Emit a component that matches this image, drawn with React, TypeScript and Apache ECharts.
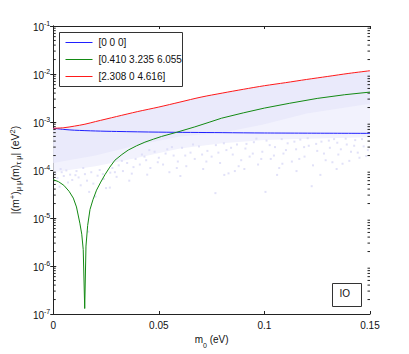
import React, { useEffect, useRef } from "react";
import * as echarts from "echarts";

// ---- data ----
const redM0 = [0, 0.005, 0.01, 0.015, 0.02, 0.03, 0.04, 0.05, 0.06, 0.07, 0.08, 0.09, 0.1, 0.11, 0.12, 0.13, 0.14, 0.15];
const redV = [7.4e-4, 7.6e-4, 8.2e-4, 9.0e-4, 1.02e-3, 1.3e-3, 1.65e-3, 2.05e-3, 2.6e-3, 3.3e-3, 4.0e-3, 4.8e-3, 5.7e-3, 6.6e-3, 7.7e-3, 8.9e-3, 1.03e-2, 1.17e-2];

const blueM0 = [0, 0.005, 0.01, 0.02, 0.03, 0.05, 0.08, 0.1, 0.15];
const blueV = [7.4e-4, 7.0e-4, 6.75e-4, 6.5e-4, 6.35e-4, 6.15e-4, 6.0e-4, 5.9e-4, 5.8e-4];

const greenM0 = [0, 0.0025, 0.005, 0.0075, 0.0095, 0.011, 0.0126, 0.0135, 0.0142, 0.0149, 0.0155, 0.0163, 0.0174, 0.0188, 0.0205, 0.0225, 0.0245, 0.0268, 0.0292, 0.0325, 0.0355, 0.0395, 0.0434, 0.0475, 0.0513, 0.0584, 0.067, 0.0742, 0.0797, 0.09, 0.1, 0.112, 0.125, 0.138, 0.15];
const greenV = [6.3e-5, 5.7e-5, 4.8e-5, 3.6e-5, 2.6e-5, 1.7e-5, 7.8e-6, 4.6e-6, 2.2e-6, 1.3e-7, 2.6e-6, 7e-6, 1.5e-5, 2.4e-5, 3.8e-5, 5.6e-5, 8.0e-5, 1.15e-4, 1.6e-4, 2.1e-4, 2.6e-4, 3.2e-4, 3.8e-4, 4.4e-4, 5.0e-4, 6.1e-4, 7.9e-4, 1.0e-3, 1.2e-3, 1.55e-3, 1.95e-3, 2.46e-3, 3.1e-3, 3.7e-3, 4.2e-3];

// envelope of the dense scatter cloud
const denseM0 = [0, 0.02, 0.04, 0.06, 0.08, 0.1, 0.12, 0.15];
const denseLow = [1.4e-4, 2.0e-4, 3.3e-4, 5.0e-4, 6.0e-4, 9.0e-4, 1.5e-3, 2.4e-3];
const lightLow = [9e-5, 1.2e-4, 1.8e-4, 2.8e-4, 3.6e-4, 4.2e-4, 4.5e-4, 4.8e-4];

// sparse scatter points [m0, value]
const sparsePts: [number, number][] = [
  [0.001, 8.5e-5], [0.002, 6.8e-5], [0.003, 4.5e-5], [0.004, 9e-5], [0.005, 7.5e-5], [0.007, 5.5e-5],
  [0.008, 8e-5], [0.009, 6.2e-5], [0.011, 9.5e-5], [0.012, 7e-5], [0.013, 4.8e-5], [0.015, 8.2e-5],
  [0.016, 6e-5], [0.0166, 5.2e-6], [0.017, 3.5e-5], [0.018, 9e-5], [0.019, 5.2e-5], [0.020, 2.8e-5],
  [0.021, 7.6e-5], [0.022, 1.0e-4], [0.024, 6.5e-5], [0.025, 4.2e-5], [0.0268, 4.3e-5], [0.027, 8.8e-5],
  [0.028, 1.1e-4], [0.030, 7.2e-5], [0.031, 1.25e-4], [0.033, 9.5e-5], [0.035, 1.4e-4], [0.036, 6e-5],
  [0.038, 1.15e-4], [0.039, 1.7e-4], [0.041, 1.3e-4], [0.042, 2.1e-4], [0.044, 1.6e-4], [0.046, 1.1e-4],
  [0.048, 2.4e-4], [0.05, 1.8e-4], [0.052, 1.3e-4], [0.054, 2.7e-4], [0.055, 9e-5], [0.057, 2e-4],
  [0.059, 1.5e-4], [0.061, 2.9e-4], [0.063, 1.2e-4], [0.065, 2.3e-4], [0.067, 1.7e-4], [0.069, 3.1e-4],
  [0.071, 1.05e-4], [0.073, 2.5e-4], [0.075, 1.9e-4], [0.0768, 3.3e-5], [0.077, 3.3e-4], [0.079, 1.4e-4],
  [0.081, 7.9e-5], [0.082, 2.6e-4], [0.083, 8.5e-5], [0.085, 2.1e-4], [0.086, 9.5e-5], [0.087, 3.4e-4],
  [0.089, 1.6e-4], [0.091, 2.8e-4], [0.093, 1.9e-4], [0.095, 3.8e-4], [0.097, 1.3e-4], [0.099, 2.4e-4],
  [0.1005, 3.5e-5], [0.101, 4.1e-4], [0.103, 1.7e-4], [0.105, 3e-4], [0.106, 7.9e-5], [0.107, 1.1e-4],
  [0.109, 2.2e-4], [0.111, 3.6e-4], [0.113, 1.5e-4], [0.115, 2.7e-4], [0.117, 4.3e-4], [0.119, 1.9e-4],
  [0.121, 3.2e-4], [0.1224, 4.6e-5], [0.123, 1.25e-4], [0.125, 2.5e-4], [0.1265, 7.9e-5], [0.127, 3.9e-4],
  [0.129, 1.6e-4], [0.131, 2.9e-4], [0.133, 4.4e-4], [0.135, 2.1e-4], [0.137, 1.35e-4], [0.139, 3.4e-4],
  [0.141, 2.4e-4], [0.143, 4.2e-4], [0.145, 1.8e-4], [0.147, 3.1e-4], [0.149, 2.6e-4],
  [0.0035, 1.05e-4], [0.0062, 9.8e-5], [0.0105, 7.8e-5], [0.0142, 1.1e-4], [0.0235, 8.2e-5], [0.0292, 9.0e-5],
  [0.0325, 1.55e-4], [0.0372, 8.4e-5], [0.0432, 1.9e-4], [0.0455, 2.6e-4], [0.0495, 1.45e-4], [0.0532, 2.2e-4],
  [0.0562, 3.0e-4], [0.0585, 1.1e-4], [0.0625, 2.0e-4], [0.0662, 3.4e-4], [0.0705, 2.1e-4], [0.0725, 1.5e-4],
  [0.0782, 2.3e-4], [0.0808, 3.6e-4], [0.0842, 2.9e-4], [0.0878, 1.2e-4], [0.0915, 3.5e-4], [0.0945, 2.2e-4],
  [0.0962, 4.5e-4], [0.0985, 1.7e-4], [0.1025, 3.3e-4], [0.1045, 2.0e-4], [0.1082, 4.4e-4], [0.1102, 2.6e-4],
  [0.1142, 3.9e-4], [0.1165, 1.7e-4], [0.1188, 3.0e-4], [0.1205, 4.6e-4], [0.1245, 3.5e-4], [0.1282, 2.2e-4],
  [0.1305, 4.1e-4], [0.1322, 1.45e-4], [0.1345, 3.7e-4], [0.1362, 2.7e-4], [0.1385, 4.5e-4], [0.1402, 1.55e-4],
  [0.1425, 3.2e-4], [0.1442, 2.3e-4], [0.1462, 4.4e-4], [0.1482, 1.95e-4], [0.0905, 1.05e-4], [0.1152, 9.5e-5],
  [0.1342, 1.05e-4], [0.0602, 7.5e-5], [0.0445, 8.0e-5], [0.1085, 1.35e-4],
];

const legendLabels = ["[0 0 0]", "[0.410 3.235 6.055", "[2.308 0 4.616]"];
const xTicks = [0, 0.05, 0.1, 0.15];
const yMin = 1e-7;
const yMax = 1e-1;
const decades = [-7, -6, -5, -4, -3, -2];
const minorMult = [2, 3, 4, 5, 6, 7, 8, 9];

const FONT = "'Liberation Sans', Arial, Helvetica, sans-serif";
const BLUE = "#2020ff";
const GREEN = "#138a13";
const RED = "#ff1a1a";
const CLOUD = "#eaeafb";
const CLOUD_LIGHT = "#f2f2fd";
const DOT = "#dadaf6";

function zip(xs: number[], ys: number[]) {
  return xs.map((x, i) => [x, ys[i]]);
}

function bandSeries(upX: number[], upY: number[], loX: number[], loY: number[], color: string, z: number) {
  return {
    type: "custom",
    z,
    silent: true,
    data: [[0, 1e-3]],
    renderItem: (_params: any, api: any) => {
      const pts: number[][] = [];
      upX.forEach((x, i) => pts.push(api.coord([x, upY[i]])));
      for (let i = loX.length - 1; i >= 0; i--) pts.push(api.coord([loX[i], loY[i]]));
      return { type: "polygon", shape: { points: pts, smooth: 0 }, style: { fill: color, stroke: null } };
    },
  };
}

const minorTickValues: number[][] = [];
decades.forEach((d) => minorMult.forEach((k) => minorTickValues.push([0, k * Math.pow(10, d)])));

export default function App() {
  const ref = useRef<HTMLDivElement>(null);
  useEffect(() => {
    document.body.style.margin = "0";
    const chart = echarts.init(ref.current!, null, { renderer: "svg" });
    const axisColor = "#222";
    const tickLabelRich = {
      b: { fontSize: 10, fontFamily: FONT, color: "#111", lineHeight: 13, verticalAlign: "bottom" },
      s: { fontSize: 7, fontFamily: FONT, color: "#111", lineHeight: 13, verticalAlign: "top", padding: [0, 0, 6, 0] },
    };
    const option: any = {
      animation: false,
      backgroundColor: "#fff",
      grid: { left: 53, right: 39, top: 26, bottom: 40 },
      xAxis: [
        {
          type: "value",
          min: 0,
          max: 0.15,
          interval: 0.05,
          position: "bottom",
          name: "{m|m}{sub|0}{m| (eV)}",
          nameLocation: "middle",
          nameGap: 19,
          nameTextStyle: {
            rich: {
              m: { fontSize: 10, fontFamily: FONT, color: "#111", lineHeight: 14, verticalAlign: "top" },
              sub: { fontSize: 7, fontFamily: FONT, color: "#111", lineHeight: 14, verticalAlign: "bottom", padding: [4, 0, 0, 0] },
            },
          },
          axisLine: { show: true, lineStyle: { color: axisColor, width: 1 } },
          axisTick: { show: true, inside: true, length: 3, lineStyle: { color: axisColor } },
          axisLabel: {
            margin: 6,
            fontSize: 10,
            fontFamily: FONT,
            color: "#111",
            formatter: (v: number) => String(parseFloat(v.toFixed(3))),
            customValues: xTicks,
          },
          splitLine: { show: false },
        },
        {
          type: "value",
          min: 0,
          max: 0.15,
          interval: 0.05,
          position: "top",
          axisLine: { show: true, lineStyle: { color: axisColor, width: 1 } },
          axisTick: { show: true, inside: true, length: 3, lineStyle: { color: axisColor } },
          axisLabel: { show: false },
          splitLine: { show: false },
        },
      ],
      yAxis: [
        {
          type: "log",
          logBase: 10,
          min: yMin,
          max: yMax,
          position: "left",
          name: "{t||(m}{sup|+}{t|)}{sub|μ μ}{t|(m)}{sub|τ μ}{t|| (eV}{sup|2}{t|)}",
          nameLocation: "middle",
          nameRotate: 90,
          nameGap: 27,
          nameTextStyle: {
            rich: {
              t: { fontSize: 10.5, fontFamily: FONT, color: "#111", lineHeight: 14, verticalAlign: "middle" },
              sup: { fontSize: 7.5, fontFamily: FONT, color: "#111", lineHeight: 14, verticalAlign: "top", padding: [0, 0, 5, 0] },
              sub: { fontSize: 7.5, fontFamily: FONT, color: "#111", lineHeight: 14, verticalAlign: "bottom", padding: [5, 0, 0, 0] },
            },
          },
          axisLine: { show: true, lineStyle: { color: axisColor, width: 1 } },
          axisTick: { show: true, inside: true, length: 3, lineStyle: { color: axisColor } },
          axisLabel: {
            margin: 3,
            formatter: (v: number) => `{b|10}{s|${Math.round(Math.log10(v))}}`,
            rich: tickLabelRich,
          },
          splitLine: { show: false },
          minorTick: { show: false },
        },
        {
          type: "log",
          logBase: 10,
          min: yMin,
          max: yMax,
          position: "right",
          axisLine: { show: true, lineStyle: { color: axisColor, width: 1 } },
          axisTick: { show: true, inside: true, length: 3, lineStyle: { color: axisColor } },
          axisLabel: { show: false },
          splitLine: { show: false },
        },
      ],
      series: [
        bandSeries(redM0, redV, denseM0, lightLow, CLOUD_LIGHT, 1),
        bandSeries(redM0, redV, denseM0, denseLow, CLOUD, 2),
        {
          type: "scatter",
          z: 3,
          silent: true,
          symbol: "rect",
          symbolSize: 2,
          itemStyle: { color: DOT },
          data: sparsePts,
        },
        {
          type: "custom",
          z: 4,
          silent: true,
          data: minorTickValues,
          renderItem: (_p: any, api: any) => {
            const l = api.coord([0, api.value(1)]);
            const r = api.coord([0.15, api.value(1)]);
            return {
              type: "group",
              children: [
                { type: "line", shape: { x1: l[0], y1: l[1], x2: l[0] + 2.5, y2: l[1] }, style: { stroke: axisColor, lineWidth: 1 } },
                { type: "line", shape: { x1: r[0] - 2.5, y1: r[1], x2: r[0], y2: r[1] }, style: { stroke: axisColor, lineWidth: 1 } },
              ],
            };
          },
        },
        {
          name: legendLabels[0],
          type: "line",
          z: 5,
          symbol: "none",
          smooth: 0.3,
          lineStyle: { color: BLUE, width: 1 },
          data: zip(blueM0, blueV),
        },
        {
          name: legendLabels[1],
          type: "line",
          z: 5,
          symbol: "none",
          lineStyle: { color: GREEN, width: 1 },
          data: zip(greenM0, greenV),
        },
        {
          name: legendLabels[2],
          type: "line",
          z: 5,
          symbol: "none",
          smooth: 0.3,
          lineStyle: { color: RED, width: 1 },
          data: zip(redM0, redV),
        },
      ],
      graphic: [
        {
          type: "group",
          left: 59,
          top: 32,
          z: 100,
          children: [
            { type: "rect", shape: { x: 0, y: 0, width: 123, height: 54 }, style: { fill: "#fff", stroke: "#333", lineWidth: 1 } },
            ...[BLUE, GREEN, RED].flatMap((c, i) => [
              { type: "line", shape: { x1: 6, y1: 10 + i * 17, x2: 33, y2: 10 + i * 17 }, style: { stroke: c, lineWidth: 1 } },
              {
                type: "text",
                x: 39,
                y: 10 + i * 17,
                style: { text: legendLabels[i], fontSize: 10, fontFamily: FONT, fill: "#111", verticalAlign: "middle" },
              },
            ]),
          ],
        },
        {
          type: "group",
          left: 332,
          top: 283,
          z: 100,
          children: [
            { type: "rect", shape: { x: 0, y: 0, width: 29, height: 23 }, style: { fill: "#fff", stroke: "#333", lineWidth: 1 } },
            { type: "text", x: 7, y: 9.5, style: { text: "IO", fontSize: 10, fontFamily: FONT, fill: "#111", verticalAlign: "middle" } },
          ],
        },
      ],
    };
    chart.setOption(option);
    return () => chart.dispose();
  }, []);
  return <div ref={ref} style={{ width: 409, height: 354 }} />;
}
